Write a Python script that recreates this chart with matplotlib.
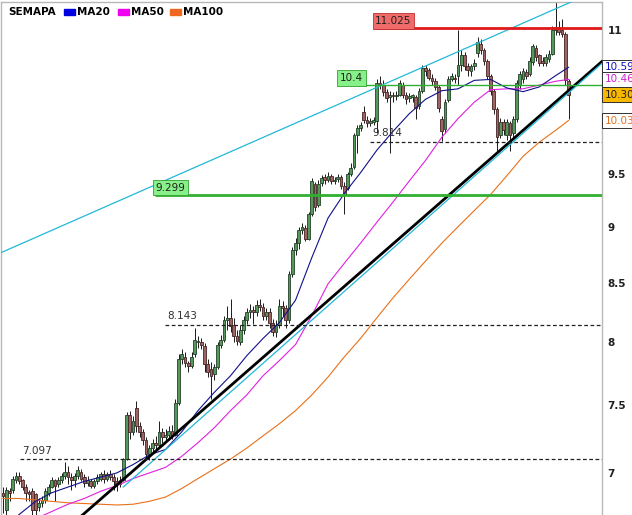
import numpy as np
import matplotlib
matplotlib.use("Agg")
import matplotlib.pyplot as plt
from matplotlib.patches import Rectangle
from matplotlib.transforms import blended_transform_factory

# daily candles, oldest first
opens = [
    6.86, 6.74, 6.87, 6.88, 6.95, 6.98, 6.95, 6.90, 6.86, 6.87,
    6.85, 6.76, 6.79, 6.81, 6.86, 6.90, 6.95, 6.92, 6.95, 6.98,
    7.01, 6.97, 6.95, 6.98, 7.01, 6.97, 6.93, 6.94, 6.91, 6.94,
    6.96, 6.99, 6.96, 6.99, 6.97, 6.94, 6.92, 6.95, 7.10, 7.43,
    7.30, 7.48, 7.34, 7.30, 7.24, 7.14, 7.18, 7.22, 7.20, 7.30,
    7.26, 7.28, 7.31, 7.28, 7.52, 7.86, 7.88, 7.83, 7.81, 7.90,
    8.01, 8.00, 7.97, 7.82, 7.78, 7.74, 7.80, 7.98, 8.02, 8.18,
    8.20, 8.14, 8.05, 8.00, 8.10, 8.18, 8.25, 8.27, 8.25, 8.31,
    8.29, 8.22, 8.25, 8.16, 8.08, 8.14, 8.30, 8.28, 8.18, 8.58,
    8.79, 8.85, 8.97, 8.99, 8.89, 9.12, 9.40, 9.20, 9.41, 9.47,
    9.44, 9.48, 9.43, 9.45, 9.47, 9.38, 9.36, 9.50, 9.57, 9.88,
    9.95, 10.12, 10.04, 10.00, 10.02, 10.03, 10.42, 10.40, 10.33, 10.27,
    10.30, 10.28, 10.30, 10.40, 10.30, 10.26, 10.27, 10.27, 10.18, 10.34,
    10.58, 10.56, 10.48, 10.44, 10.38, 10.05, 9.94, 10.24, 10.46, 10.48,
    10.50, 10.62, 10.72, 10.60, 10.55, 10.60, 10.75, 10.85, 10.78, 10.66,
    10.50, 10.34, 10.15, 9.88, 10.02, 9.88, 10.00, 9.90, 10.05, 10.40,
    10.46, 10.54, 10.52, 10.65, 10.80, 10.72, 10.66, 10.64, 10.68, 10.74,
    11.00, 11.03, 11.00, 10.96, 10.44]
closes = [
    6.84, 6.88, 6.86, 6.96, 6.98, 6.94, 6.90, 6.86, 6.85, 6.74,
    6.74, 6.79, 6.81, 6.87, 6.90, 6.95, 6.91, 6.95, 6.98, 7.01,
    6.97, 6.95, 6.98, 7.02, 6.96, 6.93, 6.95, 6.91, 6.94, 6.97,
    6.99, 6.96, 6.99, 6.97, 6.94, 6.92, 6.95, 7.10, 7.43, 7.30,
    7.38, 7.34, 7.30, 7.24, 7.14, 7.18, 7.22, 7.20, 7.30, 7.26,
    7.28, 7.31, 7.27, 7.52, 7.86, 7.90, 7.83, 7.81, 7.88, 8.02,
    8.00, 7.98, 7.82, 7.76, 7.73, 7.80, 7.98, 8.02, 8.18, 8.20,
    8.13, 8.05, 8.01, 8.10, 8.18, 8.25, 8.27, 8.25, 8.31, 8.29,
    8.22, 8.25, 8.16, 8.08, 8.14, 8.30, 8.28, 8.18, 8.58, 8.79,
    8.85, 8.97, 9.00, 8.89, 9.12, 9.43, 9.18, 9.40, 9.46, 9.44,
    9.48, 9.43, 9.44, 9.47, 9.38, 9.30, 9.50, 9.56, 9.88, 9.95,
    9.98, 10.04, 10.00, 10.03, 10.04, 10.42, 10.40, 10.33, 10.26, 10.30,
    10.28, 10.30, 10.42, 10.30, 10.25, 10.28, 10.29, 10.16, 10.34, 10.58,
    10.55, 10.48, 10.44, 10.38, 10.16, 9.92, 10.22, 10.46, 10.50, 10.46,
    10.62, 10.72, 10.60, 10.56, 10.60, 10.64, 10.87, 10.78, 10.66, 10.50,
    10.34, 10.15, 9.86, 10.02, 9.93, 10.02, 9.88, 10.05, 10.42, 10.52,
    10.55, 10.50, 10.66, 10.82, 10.70, 10.64, 10.64, 10.70, 10.74, 11.00,
    11.03, 10.98, 10.96, 10.45, 10.30]
highs = [
    6.90, 6.90, 6.89, 6.98, 7.01, 7.01, 6.96, 6.92, 6.88, 6.89,
    6.86, 6.82, 6.84, 6.89, 6.92, 6.97, 6.96, 6.97, 7.00, 7.08,
    7.05, 7.00, 7.00, 7.05, 7.03, 6.99, 6.98, 6.96, 6.96, 6.99,
    7.01, 7.02, 7.01, 7.02, 6.99, 6.97, 6.98, 7.11, 7.45, 7.46,
    7.42, 7.53, 7.37, 7.32, 7.26, 7.20, 7.25, 7.27, 7.38, 7.33,
    7.32, 7.34, 7.35, 7.55, 7.90, 7.94, 7.92, 7.85, 7.92, 8.12,
    8.05, 8.03, 7.99, 7.86, 7.84, 7.82, 8.00, 8.06, 8.22, 8.30,
    8.36, 8.20, 8.10, 8.14, 8.22, 8.28, 8.32, 8.30, 8.35, 8.36,
    8.33, 8.28, 8.28, 8.19, 8.18, 8.36, 8.34, 8.31, 8.60, 8.82,
    8.90, 9.00, 9.03, 9.02, 9.14, 9.46, 9.42, 9.44, 9.49, 9.50,
    9.52, 9.50, 9.47, 9.50, 9.49, 9.42, 9.52, 9.60, 9.90, 9.98,
    10.02, 10.18, 10.08, 10.06, 10.07, 10.46, 10.50, 10.45, 10.36, 10.34,
    10.33, 10.34, 10.45, 10.43, 10.33, 10.32, 10.31, 10.30, 10.37, 10.62,
    10.62, 10.58, 10.52, 10.47, 10.40, 10.08, 10.25, 10.50, 10.53, 10.52,
    11.00, 10.78, 10.76, 10.64, 10.63, 10.68, 10.92, 10.90, 10.80, 10.68,
    10.52, 10.36, 10.17, 10.06, 10.05, 10.05, 10.03, 10.08, 10.45, 10.55,
    10.58, 10.57, 10.70, 10.85, 10.83, 10.74, 10.70, 10.74, 10.78, 11.05,
    11.33, 11.10, 11.13, 10.98, 10.46]
lows = [
    6.72, 6.70, 6.80, 6.86, 6.93, 6.92, 6.88, 6.80, 6.80, 6.70,
    6.68, 6.73, 6.76, 6.79, 6.84, 6.89, 6.80, 6.90, 6.93, 6.96,
    6.92, 6.88, 6.90, 6.96, 6.94, 6.90, 6.91, 6.89, 6.89, 6.92,
    6.94, 6.93, 6.94, 6.95, 6.88, 6.87, 6.90, 6.94, 7.09, 7.25,
    7.28, 7.30, 7.26, 7.20, 7.10, 7.09, 7.15, 7.17, 7.18, 7.22,
    7.24, 7.26, 7.25, 7.27, 7.50, 7.82, 7.80, 7.76, 7.79, 7.88,
    7.95, 7.94, 7.76, 7.72, 7.55, 7.70, 7.78, 7.95, 8.00, 8.10,
    8.08, 8.00, 7.98, 7.98, 8.07, 8.15, 8.20, 8.15, 8.22, 8.26,
    8.18, 8.18, 8.12, 8.05, 8.04, 8.12, 8.22, 8.12, 8.16, 8.55,
    8.74, 8.80, 8.93, 8.87, 8.88, 9.10, 9.15, 9.18, 9.38, 9.40,
    9.42, 9.40, 9.40, 9.42, 9.35, 9.12, 9.34, 9.48, 9.55, 9.70,
    9.92, 10.00, 9.96, 9.97, 9.98, 9.90, 10.36, 10.28, 10.22, 9.70,
    10.22, 10.24, 10.28, 10.26, 10.20, 10.22, 10.22, 10.05, 10.15, 10.32,
    10.50, 10.45, 10.40, 10.35, 10.12, 9.82, 9.90, 10.22, 10.44, 10.42,
    10.40, 10.55, 10.56, 10.50, 10.50, 10.56, 10.70, 10.74, 10.62, 10.46,
    10.30, 10.10, 9.70, 9.85, 9.88, 9.83, 9.72, 9.86, 10.02, 10.36,
    10.42, 10.46, 10.50, 10.62, 10.66, 10.60, 10.60, 10.60, 10.65, 10.72,
    10.95, 10.95, 10.92, 10.40, 10.05]

# moving averages every 5 candles
ma_idx = [0, 5, 10, 15, 20, 25, 30, 35, 40, 45, 50, 55, 60, 65, 70, 75, 80, 85,
          90, 95, 100, 105, 110, 115, 120, 125, 130, 135, 140, 145, 150, 155,
          160, 165, 170, 174]
ma20 = [6.62, 6.71, 6.80, 6.86, 6.90, 6.94, 6.97, 7.00, 7.06, 7.13, 7.17, 7.30,
        7.46, 7.60, 7.73, 7.89, 8.03, 8.16, 8.35, 8.72, 9.08, 9.31, 9.51, 9.73,
        9.92, 10.10, 10.25, 10.34, 10.36, 10.45, 10.46, 10.37, 10.33, 10.38,
        10.50, 10.59]
ma50 = [6.58, 6.63, 6.68, 6.73, 6.78, 6.82, 6.87, 6.91, 6.96, 7.00, 7.04, 7.12,
        7.22, 7.33, 7.46, 7.58, 7.73, 7.85, 7.98, 8.22, 8.49, 8.67, 8.85, 9.04,
        9.23, 9.43, 9.63, 9.86, 10.05, 10.22, 10.35, 10.36, 10.36, 10.40, 10.44,
        10.46]
ma100 = [6.82, 6.82, 6.81, 6.80, 6.79, 6.785, 6.78, 6.775, 6.78, 6.80, 6.83, 6.89,
         6.96, 7.03, 7.10, 7.18, 7.27, 7.36, 7.46, 7.58, 7.72, 7.88, 8.03, 8.20,
         8.37, 8.53, 8.69, 8.85, 9.00, 9.15, 9.30, 9.48, 9.67, 9.81, 9.93, 10.03]

# drawn levels: (price, first candle index)
red_level = (11.025, 114.5)
green_levels = [(10.4, 103.7), (9.299, 46.8)]
dashed_levels = [(9.814, 113.0), (8.143, 49.8), (7.097, 5.2)]

# trendlines: ((i0, p0), (i1, p1))
upper_channel = ((-1, 8.76), (185, 11.49))
support_black = ((20, 6.62), (184.5, 10.66))
support_cyan = ((37, 6.90), (184.5, 10.64))

yticks = [7, 7.5, 8, 8.5, 9, 9.5, 11]

W, H = 632, 515
fig = plt.figure(figsize=(W / 100, H / 100), dpi=100)
ax = fig.add_axes([1 / W, 0, 601 / W, 513 / H])
ax.set_yscale("log")
ax.set_xlim(-0.62, 184.3)
ax.set_ylim(6.706, 11.32)

o = np.array(opens)
c = np.array(closes)
hi = np.array(highs)
lo = np.array(lows)
idx = np.arange(len(c))
up = c >= o

ax.vlines(idx, lo, hi, color="#1a1a1a", lw=0.7, zorder=2)
body_lo = np.minimum(o, c)
body_h = np.maximum(np.abs(c - o), 0.012)
ax.bar(idx[up], body_h[up], bottom=body_lo[up], width=0.8,
       color="#55985a", edgecolor="#24402a", lw=0.6, zorder=3)
ax.bar(idx[~up], body_h[~up], bottom=body_lo[~up], width=0.8,
       color="#9e6363", edgecolor="#452525", lw=0.6, zorder=3)

ax.plot(ma_idx, ma100, color="#e8701a", lw=0.8, zorder=4)
ax.plot(ma_idx, ma50, color="#e020e0", lw=0.8, zorder=4)
ax.plot(ma_idx, ma20, color="#10108c", lw=0.8, zorder=4)

# trendlines
for (p, q), col, lw in [(upper_channel, "#22b8d8", 0.9),
                        (support_black, "#000000", 2.0),
                        (support_cyan, "#22b8d8", 0.9)]:
    ax.plot([p[0], q[0]], [p[1], q[1]], color=col, lw=lw, zorder=5)

xmax = 186
# horizontal levels
lvl, start = red_level
ax.hlines(lvl, start, xmax, color="#e01818", lw=2, zorder=5)
ax.text(start, lvl * 1.002, "11.025", fontsize=7.5, color="#202020",
        va="bottom", ha="left", zorder=6,
        bbox=dict(boxstyle="square,pad=0.25", fc="#f06a6a", ec="#c03030", lw=0.6))

for (lvl, start), lw in zip(green_levels, [1.0, 2.0]):
    ax.hlines(lvl, start, xmax, color="#30b030", lw=lw, zorder=5)
    ax.text(start, lvl * 1.002, f"{lvl:g}", fontsize=7.5, color="#202020",
            va="bottom", ha="left", zorder=6,
            bbox=dict(boxstyle="square,pad=0.25", fc="#88f088", ec="#30a030", lw=0.6))

for lvl, start in dashed_levels:
    ax.hlines(lvl, start, xmax, color="#202020", lw=0.9, linestyles=(0, (3, 2)), zorder=5)
    ax.text(start + 0.7, lvl * 1.004, f"{lvl:.3f}", fontsize=7.5, color="#303030",
            va="bottom", ha="left", zorder=6)

# axes look
ax.spines["bottom"].set_visible(False)
for side in ["left", "top", "right"]:
    ax.spines[side].set_color("#b8b8b8")
    ax.spines[side].set_linewidth(1)
ax.set_xticks([])
ax.yaxis.tick_right()
ax.yaxis.set_minor_locator(matplotlib.ticker.NullLocator())
ax.set_yticks(yticks)
ax.set_yticklabels([f"{t:g}" for t in yticks])
ax.tick_params(axis="y", length=0, pad=4, labelsize=7.5, labelcolor="#202020")
for lab in ax.get_yticklabels():
    lab.set_fontweight("bold")

# last-value boxes on the price scale (cut by the image edge, as in the source)
tr = blended_transform_factory(fig.transFigure, ax.transData)
xb = 605 / W
boxes = [(ma20[-1], "#1010c0", "white"), (ma50[-1], "#d020d0", "white"),
         (closes[-1], "#202020", "#f8b800"), (ma100[-1], "#e07020", "white")]
for val, tc, fc in boxes:
    fig.text(xb, val, f"{val:.2f}", transform=tr, fontsize=7.5, color=tc,
             va="center", ha="left", zorder=10,
             bbox=dict(boxstyle="square,pad=0.25", fc=fc, ec="#303030", lw=0.7))


# legend strip
def fx(x):
    return x / W


def fy(y):
    return 1 - y / H


fig.text(fx(8), fy(12), "SEMAPA", fontsize=7.5, fontweight="bold", va="center", ha="left")
legend = [("MA20", "#0000e0", 64), ("MA50", "#f000f0", 118), ("MA100", "#f06820", 170)]
for name, col, x0 in legend:
    fig.patches.append(Rectangle((fx(x0), fy(15)), 11 / W, 6 / H, transform=fig.transFigure,
                                 color=col, zorder=10))
    fig.text(fx(x0 + 13), fy(12), name, fontsize=7.5, fontweight="bold", va="center", ha="left")

fig.savefig("out.png", dpi=100)
